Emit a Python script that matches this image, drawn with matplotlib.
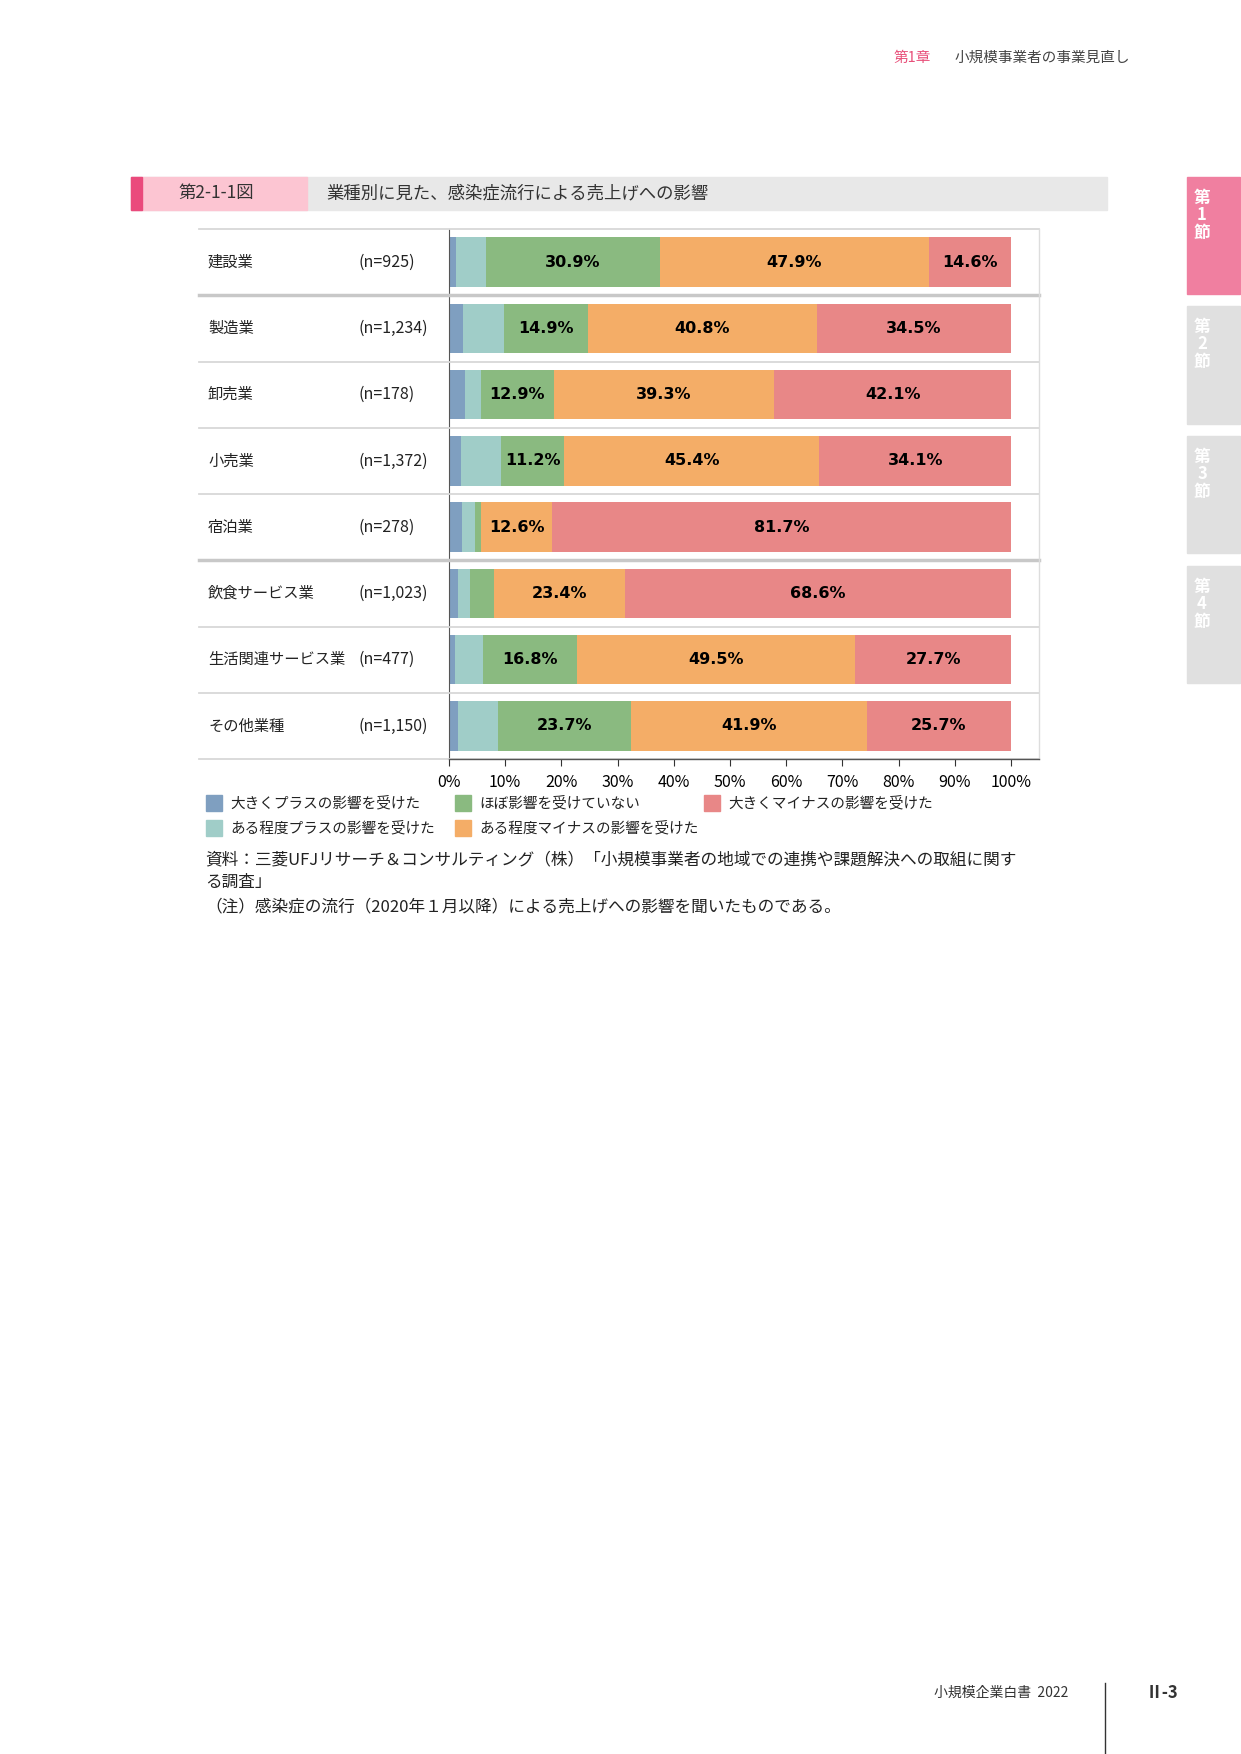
import matplotlib
matplotlib.use("Agg")
import matplotlib.pyplot as plt
from matplotlib.lines import Line2D
from matplotlib.patches import Rectangle
import numpy as np

plt.rcParams['font.family'] = ['Noto Sans CJK JP', 'DejaVu Sans']

categories = ["建設業", "製造業", "卸売業", "小売業", "宿泊業", "飲食サービス業", "生活関連サービス業", "その他業種"]
ns = ["(n=925)", "(n=1,234)", "(n=178)", "(n=1,372)", "(n=278)", "(n=1,023)", "(n=477)", "(n=1,150)"]
series_names = ["大きくプラスの影響を受けた", "ある程度プラスの影響を受けた", "ほぼ影響を受けていない",
                "ある程度マイナスの影響を受けた", "大きくマイナスの影響を受けた"]
big_plus = [1.2, 2.5, 2.9, 2.1, 2.3, 1.6, 1.1, 1.6]
some_plus = [5.4, 7.3, 2.8, 7.2, 2.4, 2.2, 4.9, 7.1]
no_effect = [30.9, 14.9, 12.9, 11.2, 1.0, 4.2, 16.8, 23.7]
some_minus = [47.9, 40.8, 39.3, 45.4, 12.6, 23.4, 49.5, 41.9]
big_minus = [14.6, 34.5, 42.1, 34.1, 81.7, 68.6, 27.7, 25.7]
colors = ["#7f9fc0", "#a0cdc8", "#8aba80", "#f4ad67", "#e88787"]
tick_labels = ["0%", "10%", "20%", "30%", "40%", "50%", "60%", "70%", "80%", "90%", "100%"]

W, H = 1241, 1754
fig = plt.figure(figsize=(W/100, H/100), dpi=100)

def fx(x): return x / W
def fy(y): return 1 - y / H

# page decorations
fig.text(fx(894), fy(58), "第1章", color="#e8507a", fontsize=10.5, va="center")
fig.text(fx(955), fy(58), "小規模事業者の事業見直し", color="#444444", fontsize=10.5, va="center")
fig.patches.append(Rectangle((fx(131), fy(210)), fx(1107-131), (210-177)/H, transform=fig.transFigure, color="#e8e8e8", zorder=0))
fig.patches.append(Rectangle((fx(131), fy(210)), fx(307-131), (210-177)/H, transform=fig.transFigure, color="#fcc5d2", zorder=1))
fig.patches.append(Rectangle((fx(131), fy(210)), fx(11), (210-177)/H, transform=fig.transFigure, color="#ea4a7c", zorder=2))
fig.text(fx(178), fy(193), "第2-1-1図", fontsize=12.5, va="center", color="#333333")
fig.text(fx(326), fy(193), "業種別に見た、感染症流行による売上げへの影響", fontsize=12.5, va="center", color="#333333")
tabs = [(177, 294, "#f07fa0", "第\n1\n節"), (306, 424, "#e0e0e0", "第\n2\n節"),
        (436, 553, "#e0e0e0", "第\n3\n節"), (566, 683, "#e0e0e0", "第\n4\n節")]
for y0, y1, c, t in tabs:
    fig.patches.append(Rectangle((fx(1187), fy(y1)), fx(1240-1187), (y1-y0)/H, transform=fig.transFigure, color=c))
    fig.text(fx(1202), fy(y0+12), t, color="white", fontsize=12, va="top", ha="center", linespacing=0.95, fontweight="bold")
fig.text(fx(934), fy(1693), "小規模企業白書  2022", fontsize=10, va="center", color="#333333")
fig.add_artist(Line2D([fx(1105), fx(1105)], [fy(1683), fy(1754)], transform=fig.transFigure, color="#333333", lw=1))
fig.text(fx(1146), fy(1693), "Ⅱ-3", fontsize=12, va="center", color="#333333", fontweight="bold")

# bar axes
top, bot = 229, 759
ax = fig.add_axes([fx(449), fy(bot), fx(1039-449), (bot-top)/H])
xmax = (1039-449)/(1011-449)*100
n = len(categories)
y = np.arange(n)
data = [big_plus, some_plus, no_effect, some_minus, big_minus]
left = np.zeros(n)
for i, (vals, c) in enumerate(zip(data, colors)):
    vals = np.array(vals)
    ax.barh(y, vals, left=left, height=0.75, color=c, label=series_names[i])
    if i >= 2:
        for yy, l, v in zip(y, left, vals):
            if v >= 10:
                ax.text(l + v/2, yy, f"{v:.1f}%", ha="center", va="center", fontsize=11.5,
                        fontweight="bold", family="DejaVu Sans")
    left += vals
ax.set_xlim(0, xmax)
ax.set_ylim(n - 0.5, -0.5)
ax.set_yticks([])
ax.set_xticks(np.arange(0, 101, 10))
ax.set_xticklabels(tick_labels, fontsize=11.5)
ax.tick_params(axis="x", length=5, color="#333333", pad=6)
for s in ["top", "right", "bottom"]:
    ax.spines[s].set_visible(False)
ax.spines["left"].set_color("#555555")

# row separators and labels
rh = (bot - top) / n
for k in range(n + 1):
    yy = top + k * rh
    thick = k in (1, 5)
    fig.add_artist(Line2D([fx(199), fx(1039)], [fy(yy), fy(yy)], transform=fig.transFigure,
                          color="#c8c8c8" if thick else "#d8d8d8", lw=2.5 if thick else 1.3))
fig.add_artist(Line2D([fx(1039), fx(1039)], [fy(top), fy(bot)], transform=fig.transFigure, color="#dddddd", lw=1))
fig.add_artist(Line2D([fx(449), fx(1039)], [fy(bot), fy(bot)], transform=fig.transFigure, color="#555555", lw=1))
for k in range(n):
    yy = top + (k + 0.5) * rh
    fig.text(fx(208), fy(yy), categories[k], fontsize=11, va="center", color="#222222")
    fig.text(fx(358), fy(yy), ns[k], fontsize=11.5, va="center", color="#222222")

# legend
leg_pos = [(206, 803), (206, 828), (455, 803), (455, 828), (704, 803)]
for (lx, ly), c, name in zip(leg_pos, colors, series_names):
    fig.patches.append(Rectangle((fx(lx), fy(ly + 8)), fx(16), 16/H, transform=fig.transFigure, color=c))
    fig.text(fx(lx + 24), fy(ly), name, fontsize=10.5, va="center", color="#222222")

fig.text(fx(205), fy(860), "資料：三菱UFJリサーチ＆コンサルティング（株）「小規模事業者の地域での連携や課題解決への取組に関す",
         fontsize=12, va="center", color="#222222")
fig.text(fx(205), fy(882), "る調査」", fontsize=12, va="center", color="#222222")
fig.text(fx(205), fy(907), "（注）感染症の流行（2020年１月以降）による売上げへの影響を聞いたものである。",
         fontsize=12, va="center", color="#222222")

fig.savefig("out.png", dpi=100)
